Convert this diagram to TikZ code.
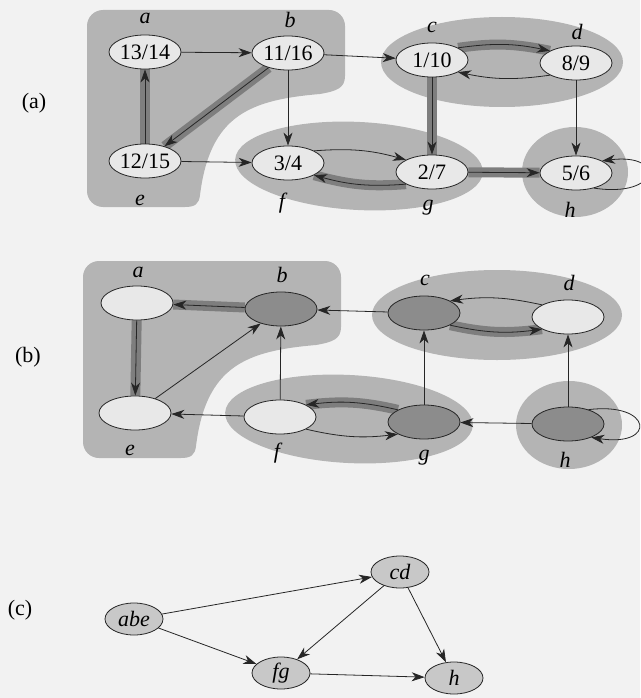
\documentclass[tikz,border=0pt]{standalone}
\usepackage{fontspec}
\setmainfont{Liberation Serif}
\usetikzlibrary{shapes.geometric,arrows.meta}
\definecolor{paper}{RGB}{242,242,242}
\definecolor{regiongray}{RGB}{180,180,180}
\definecolor{bandgray}{RGB}{126,126,126}
\definecolor{lightnode}{RGB}{232,232,232}
\definecolor{darknode}{RGB}{140,140,140}
\definecolor{cnode}{RGB}{200,200,200}
\definecolor{linecol}{RGB}{38,38,38}
\pgfdeclarelayer{paperlayer}
\pgfdeclarelayer{regions}
\pgfdeclarelayer{bands}
\pgfsetlayers{paperlayer,regions,bands,main}
\begin{document}
\begin{tikzpicture}[x=1pt,y=1pt,
  vtx/.style={ellipse, draw=linecol, line width=0.8pt, minimum width=72pt, minimum height=34pt, inner sep=0pt, font=\fontsize{22}{24}\selectfont},
  lt/.style={vtx, fill=lightnode},
  dk/.style={vtx, fill=darknode},
  cv/.style={ellipse, draw=linecol, line width=0.8pt, fill=cnode, minimum width=58pt, minimum height=32pt, inner sep=0pt, font=\fontsize{22}{24}\selectfont\itshape},
  lbl/.style={font=\fontsize{22}{24}\selectfont\itshape, inner sep=0pt},
  plbl/.style={font=\fontsize{22}{24}\selectfont, inner sep=0pt},
  arr/.style={draw=linecol, line width=0.8pt, -{Stealth[length=13pt,width=9pt,inset=4pt]}},
  band/.style={draw=bandgray, line width=10pt},
  region/.style={fill=regiongray}
]
\begin{pgfonlayer}{paperlayer}
\fill[paper] (0,0) rectangle (640,-698);
\end{pgfonlayer}
\useasboundingbox (0,0) rectangle (640,-698);

% ---------------- (a) ----------------
\node[plbl] (pa) at (34,-103) {(a)};
\node[lt] (a1) at (145,-52) {13/14};
\node[lt] (b1) at (288,-53) {11/16};
\node[lt] (c1) at (432,-60) {1/10};
\node[lt] (d1) at (576,-63) {8/9};
\node[lt] (e1) at (145,-161) {12/15};
\node[lt] (f1) at (288,-163) {3/4};
\node[lt] (g1) at (432,-172) {2/7};
\node[lt] (h1) at (576,-173) {5/6};
\node[lbl] (la1) at (145,-18) {a};
\node[lbl] (lb1) at (290,-20) {b};
\node[lbl] (lc1) at (432,-27) {c};
\node[lbl] (ld1) at (577,-32) {d};
\node[lbl] (le1) at (140,-200) {e};
\node[lbl] (lf1) at (282,-203) {f};
\node[lbl] (lg1) at (428,-208) {g};
\node[lbl] (lh1) at (570,-210) {h};

\begin{pgfonlayer}{regions}
  \fill[region] (103,-10) -- (329,-10) arc[start angle=90,end angle=0,radius=16]
    -- (345,-76) .. controls (345,-88) and (337,-91) .. (320,-94)
    .. controls (250,-100) and (210,-115) .. (200,-195)
    .. controls (199,-204) and (195,-207) .. (185,-207)
    -- (103,-207) arc[start angle=270,end angle=180,radius=16]
    -- (87,-26) arc[start angle=180,end angle=90,radius=16] -- cycle;
  \fill[region] (502,-62) ellipse[x radius=121, y radius=45];
  \fill[region, rotate around={-3:(359,-166)}] (359,-166) ellipse[x radius=124, y radius=44];
  \fill[region] (575,-172) ellipse[x radius=53, y radius=45];
\end{pgfonlayer}
\begin{pgfonlayer}{bands}
  \draw[band] (b1) -- (e1);
  \draw[band] (e1) -- (a1);
  \draw[band] (c1.25) to[bend left=10] (d1.155);
  \draw[band] (c1) -- (g1);
  \draw[band] (g1.-155) to[bend left=10] (f1.-25);
  \draw[band] (g1) -- (h1);
\end{pgfonlayer}
\draw[arr] (b1) -- (e1);
\draw[arr] (e1) -- (a1);
\draw[arr] (c1.25) to[bend left=10] (d1.155);
\draw[arr] (c1) -- (g1);
\draw[arr] (g1.-155) to[bend left=10] (f1.-25);
\draw[arr] (g1) -- (h1);
\draw[arr] (a1) -- (b1);
\draw[arr] (b1) -- (f1);
\draw[arr] (e1) -- (f1);
\draw[arr] (b1) -- (c1);
\draw[arr] (d1.-155) to[bend left=10] (c1.-25);
\draw[arr] (d1) -- (h1);
\draw[arr] (f1.25) to[bend left=10] (g1.155);
\draw[arr] (h1.-40) .. controls +(66,-10) and +(64,8) .. (h1.25);

% ---------------- (b) ----------------
\node[plbl] (pb) at (28,-357) {(b)};
\node[lt] (a2) at (137,-303) {};
\node[dk] (b2) at (281,-309) {};
\node[dk] (c2) at (424,-313) {};
\node[lt] (d2) at (568,-317) {};
\node[lt] (e2) at (135,-413) {};
\node[lt] (f2) at (280,-417) {};
\node[dk] (g2) at (424,-422) {};
\node[dk] (h2) at (568,-424) {};
\node[lbl] (la2) at (138,-272) {a};
\node[lbl] (lb2) at (282,-275) {b};
\node[lbl] (lc2) at (425,-280) {c};
\node[lbl] (ld2) at (569,-283) {d};
\node[lbl] (le2) at (130,-450) {e};
\node[lbl] (lf2) at (277,-453) {f};
\node[lbl] (lg2) at (424,-458) {g};
\node[lbl] (lh2) at (565,-460) {h};

\begin{pgfonlayer}{regions}
  \begin{scope}[shift={(-4,-251)}]
  \fill[region] (103,-10) -- (329,-10) arc[start angle=90,end angle=0,radius=16]
    -- (345,-76) .. controls (345,-88) and (337,-91) .. (320,-94)
    .. controls (250,-100) and (210,-115) .. (200,-195)
    .. controls (199,-204) and (195,-207) .. (185,-207)
    -- (103,-207) arc[start angle=270,end angle=180,radius=16]
    -- (87,-26) arc[start angle=180,end angle=90,radius=16] -- cycle;
  \end{scope}
  \fill[region] (497,-315) ellipse[x radius=125, y radius=45];
  \fill[region, rotate around={-3:(349,-419)}] (349,-419) ellipse[x radius=124, y radius=44];
  \fill[region] (569,-425) ellipse[x radius=53, y radius=44];
\end{pgfonlayer}
\begin{pgfonlayer}{bands}
  \draw[band] (b2) -- (a2);
  \draw[band] (a2) -- (e2);
  \draw[band] (c2.-25) to[bend right=10] (d2.-155);
  \draw[band] (g2.155) to[bend right=10] (f2.25);
\end{pgfonlayer}
\draw[arr] (b2) -- (a2);
\draw[arr] (a2) -- (e2);
\draw[arr] (c2.-25) to[bend right=10] (d2.-155);
\draw[arr] (g2.155) to[bend right=10] (f2.25);
\draw[arr] (e2) -- (b2);
\draw[arr] (f2) -- (e2);
\draw[arr] (f2) -- (b2);
\draw[arr] (c2) -- (b2);
\draw[arr] (d2.155) to[bend right=10] (c2.25);
\draw[arr] (g2) -- (c2);
\draw[arr] (h2) -- (d2);
\draw[arr] (f2.-25) to[bend right=10] (g2.-155);
\draw[arr] (h2) -- (g2);
\draw[arr] (h2.35) .. controls +(64,8) and +(66,-10) .. (h2.-30);

% ---------------- (c) ----------------
\node[plbl] (pc) at (20,-610) {(c)};
\node[cv] (abe) at (134,-619) {abe};
\node[cv] (cd) at (400,-572) {cd};
\node[cv] (fg) at (281,-673) {fg};
\node[cv] (hh) at (454,-678) {h};
\draw[arr] (abe) -- (cd);
\draw[arr] (abe) -- (fg);
\draw[arr] (cd) -- (fg);
\draw[arr] (cd) -- (hh);
\draw[arr] (fg) -- (hh);
\end{tikzpicture}
\end{document}
